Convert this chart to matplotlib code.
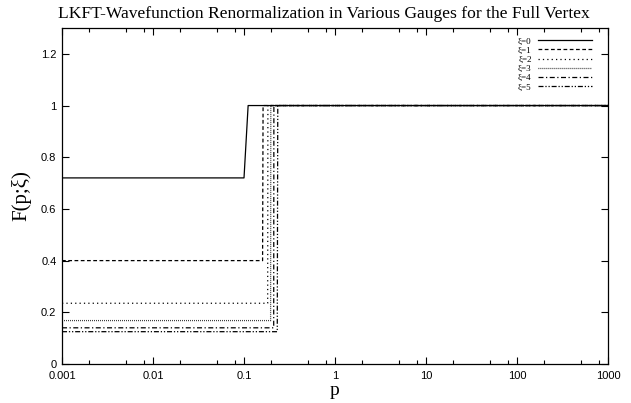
import matplotlib
matplotlib.use('Agg')
import matplotlib.pyplot as plt
from matplotlib.ticker import LogLocator, NullFormatter

# gauge parameters and step data
xi_values = [0, 1, 2, 3, 4, 5]
low_levels = [0.72, 0.40, 0.235, 0.168, 0.140, 0.125]
step_start = [0.100, 0.160, 0.182, 0.196, 0.212, 0.232]
step_end = [0.111, 0.162, 0.183, 0.197, 0.213, 0.235]
high_level = 1.0
p_min, p_max = 0.001, 1000

styles = [
    '-',
    (0, (3, 2)),
    (0, (1, 2.5)),
    (0, (0.6, 1)),
    (0, (4, 2, 1, 2)),
    (0, (4, 1.5, 1, 1.5, 1, 1.5)),
]

serif = ['Liberation Serif', 'DejaVu Serif']
sans = ['Liberation Sans', 'DejaVu Sans']

fig = plt.figure(figsize=(6.31, 4.03), dpi=100)
ax = fig.add_axes([0.0983, 0.0968, 0.8652, 0.8337])

for xi, lo, a, b, ls in zip(xi_values, low_levels, step_start, step_end, styles):
    xs = [p_min, a, b, p_max]
    ys = [lo, lo, high_level, high_level]
    ax.plot(xs, ys, color='black', linestyle=ls, linewidth=0.9,
            label='\u03be=%d' % xi)

ax.set_xscale('log')
ax.set_xlim(p_min, p_max)
ax.set_ylim(0, 1.3)
ax.set_yticks([0, 0.2, 0.4, 0.6, 0.8, 1, 1.2])
ax.set_yticklabels(['0', '0.2', '0.4', '0.6', '0.8', '1', '1.2'])
ax.set_xticks([0.001, 0.01, 0.1, 1, 10, 100, 1000])
ax.set_xticklabels(['0.001', '0.01', '0.1', '1', '10', '100', '1000'])
ax.xaxis.set_minor_locator(LogLocator(base=10, subs=[2, 5, 8], numticks=10))
ax.xaxis.set_minor_formatter(NullFormatter())

ax.tick_params(which='both', direction='in', top=True, right=True,
               labelsize=8, width=0.8)
ax.tick_params(axis='x', pad=5)
ax.tick_params(axis='y', pad=4)
ax.tick_params(which='major', length=5)
ax.tick_params(which='minor', length=3)
for lab in ax.get_xticklabels() + ax.get_yticklabels():
    lab.set_family(sans)
for sp in ax.spines.values():
    sp.set_linewidth(0.9)

ax.set_xlabel('p', family=serif, fontsize=14, labelpad=1)
ax.set_ylabel('F(p;\u03be)', family=serif, fontsize=15, labelpad=7)
ax.set_title('LKFT-Wavefunction Renormalization in Various Gauges for the Full Vertex',
             family=serif, fontsize=12.6, pad=7, x=0.48)

leg = ax.legend(loc='upper right', bbox_to_anchor=(0.971, 0.973),
                frameon=False, markerfirst=False,
                prop={'family': serif, 'size': 6.5}, handlelength=6,
                labelspacing=0.1, borderaxespad=0, borderpad=0,
                handletextpad=0.7)
for t in leg.get_texts():
    t.set_ha('right')

fig.savefig('out.png', dpi=100)
